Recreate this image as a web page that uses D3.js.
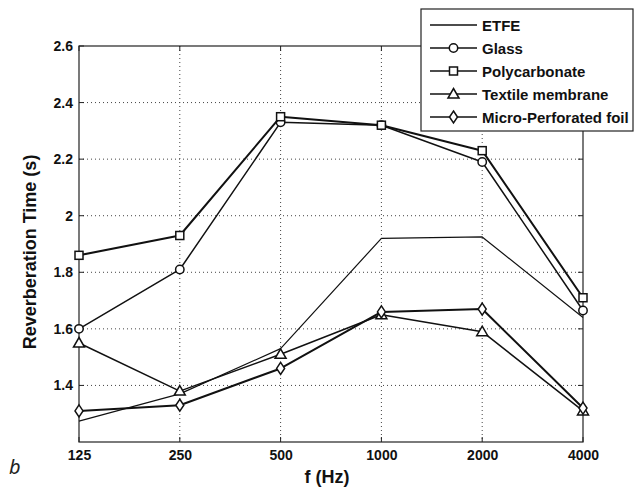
<!DOCTYPE html>
<html><head><meta charset="utf-8">
<script src="https://cdn.jsdelivr.net/npm/d3@7"></script>
<style>body{margin:0;background:#fff}svg{display:block}text{font-family:"Liberation Sans",Arial,sans-serif}</style>
</head><body>
<svg id="c" width="637" height="488"></svg>
<script>
const categories = ["125","250","500","1000","2000","4000"];
const etfe = [1.274, 1.37, 1.53, 1.92, 1.925, 1.64];
const glass = [1.60, 1.81, 2.33, 2.32, 2.19, 1.665];
const polycarbonate = [1.86, 1.93, 2.35, 2.32, 2.23, 1.71];
const textile = [1.55, 1.38, 1.51, 1.65, 1.59, 1.31];
const microPerforated = [1.31, 1.33, 1.46, 1.66, 1.67, 1.32];
const yTicks = [1.4, 1.6, 1.8, 2.0, 2.2, 2.4, 2.6];
const yTickLabels = ["1.4","1.6","1.8","2","2.2","2.4","2.6"];

const series = [
  {name:"ETFE", values:etfe, marker:"none", w:1.2},
  {name:"Glass", values:glass, marker:"circle", w:1.5},
  {name:"Polycarbonate", values:polycarbonate, marker:"square", w:2},
  {name:"Textile membrane", values:textile, marker:"triangle", w:1.5},
  {name:"Micro-Perforated foil", values:microPerforated, marker:"diamond", w:2}
];

const svg = d3.select("#c");
const L=79, R=583, T=46, B=442;
const x = d3.scalePoint().domain(categories).range([L,R]);
const y = d3.scaleLinear().domain([1.2, 2.6]).range([B,T]);

// grid
const g = svg.append("g");
g.selectAll(".gx").data(categories.slice(1,-1)).enter().append("line")
  .attr("x1",d=>x(d)).attr("x2",d=>x(d)).attr("y1",T).attr("y2",B)
  .attr("stroke","#444").attr("stroke-width",1).attr("stroke-dasharray","1,3");
g.selectAll(".gy").data(yTicks.slice(0,-1)).enter().append("line")
  .attr("x1",L).attr("x2",R).attr("y1",d=>y(d)).attr("y2",d=>y(d))
  .attr("stroke","#444").attr("stroke-width",1).attr("stroke-dasharray","1,3");

// box
svg.append("rect").attr("x",L).attr("y",T).attr("width",R-L).attr("height",B-T)
  .attr("fill","none").attr("stroke","#222").attr("stroke-width",1.2);

// ticks inside
yTicks.forEach(v=>{
  svg.append("line").attr("x1",L).attr("x2",L+5).attr("y1",y(v)).attr("y2",y(v)).attr("stroke","#222");
  svg.append("line").attr("x1",R-5).attr("x2",R).attr("y1",y(v)).attr("y2",y(v)).attr("stroke","#222");
});
categories.forEach(c=>{
  svg.append("line").attr("x1",x(c)).attr("x2",x(c)).attr("y1",B).attr("y2",B-5).attr("stroke","#222");
  svg.append("line").attr("x1",x(c)).attr("x2",x(c)).attr("y1",T).attr("y2",T+5).attr("stroke","#222");
});

// axis labels
const yAxis = d3.axisLeft(y).tickValues(yTicks).tickFormat((d,i)=>yTickLabels[i]).tickSize(0).tickPadding(6);
const ya = svg.append("g").attr("transform",`translate(${L},0)`).call(yAxis);
ya.select(".domain").remove();
ya.selectAll("text").attr("font-size",14).attr("font-weight","bold").attr("fill","#111").attr("font-family","Liberation Sans, Arial, sans-serif");
const xAxis = d3.axisBottom(x).tickSize(0).tickPadding(8);
const xa = svg.append("g").attr("transform",`translate(0,${B})`).call(xAxis);
xa.select(".domain").remove();
xa.selectAll("text").attr("font-size",14).attr("font-weight","bold").attr("fill","#111").attr("font-family","Liberation Sans, Arial, sans-serif");

svg.append("text").attr("transform",`translate(36,252) rotate(-90)`).attr("text-anchor","middle")
  .attr("font-size",18).attr("font-weight","bold").attr("fill","#111").text("Reverberation Time (s)");
svg.append("text").attr("x",327).attr("y",483).attr("text-anchor","middle")
  .attr("font-size",18).attr("font-weight","bold").attr("fill","#111").text("f (Hz)");
svg.append("text").attr("x",9).attr("y",474).attr("font-size",20).attr("font-style","italic").attr("fill","#222")
  .style("font-family","Noto Sans, sans-serif").text("b");

function drawMarker(sel, type, cx, cy) {
  if (type==="circle") sel.append("circle").attr("cx",cx).attr("cy",cy).attr("r",4.2);
  else if (type==="square") sel.append("rect").attr("x",cx-4).attr("y",cy-4).attr("width",8).attr("height",8);
  else if (type==="triangle") sel.append("path").attr("d",`M${cx},${cy-5.5}L${cx+5.5},${cy+4}L${cx-5.5},${cy+4}Z`);
  else if (type==="diamond") sel.append("path").attr("d",`M${cx},${cy-6}L${cx+4},${cy}L${cx},${cy+6}L${cx-4},${cy}Z`);
}

const line = d3.line().x((d,i)=>x(categories[i])).y(d=>y(d));
series.forEach(s=>{
  svg.append("path").attr("d",line(s.values)).attr("fill","none").attr("stroke","#111").attr("stroke-width",s.w).attr("stroke-linejoin","round");
  if (s.marker!=="none") {
    const mg = svg.append("g").attr("fill","#fff").attr("stroke","#111").attr("stroke-width",1.5);
    s.values.forEach((v,i)=>drawMarker(mg, s.marker, x(categories[i]), y(v)));
  }
});

// legend
const lx=421, ly=9, lw=212, lh=122;
svg.append("rect").attr("x",lx).attr("y",ly).attr("width",lw).attr("height",lh).attr("fill","#fff").attr("stroke","#222").attr("stroke-width",1.2);
series.forEach((s,i)=>{
  const yy = ly+16+i*23;
  svg.append("line").attr("x1",430).attr("x2",477).attr("y1",yy).attr("y2",yy).attr("stroke","#111").attr("stroke-width",1.6);
  if (s.marker!=="none") {
    const mg = svg.append("g").attr("fill","#fff").attr("stroke","#111").attr("stroke-width",1.5);
    drawMarker(mg, s.marker, 453.5, yy);
  }
  svg.append("text").attr("x",482).attr("y",yy+5.5).attr("font-size",15).attr("font-weight","bold").attr("fill","#111").text(s.name);
});
</script>
</body></html>
